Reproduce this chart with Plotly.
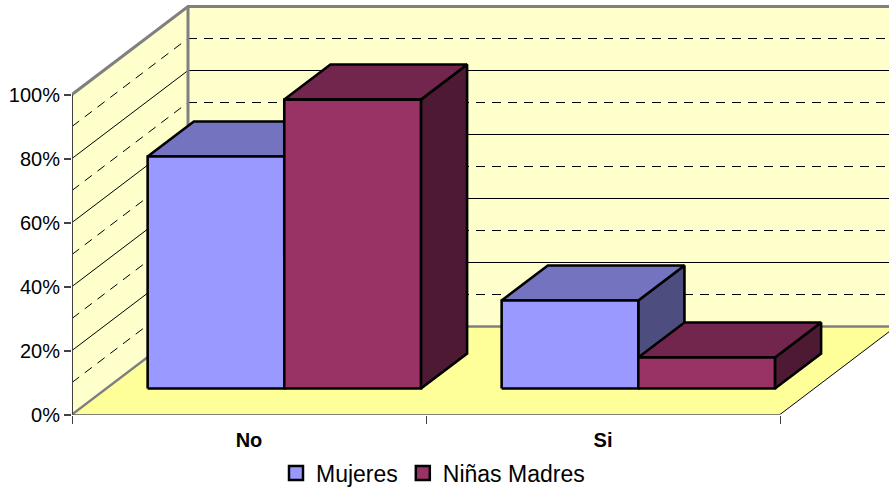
import plotly.graph_objects as go

categories = ["No", "Si"]
series_names = ["Mujeres", "Niñas Madres"]
mujeres = [72.5, 27.5]
ninas_madres = [90.3, 9.7]
y_ticks = [0, 20, 40, 60, 80, 100]
y_tick_labels = ["0%", "20%", "40%", "60%", "80%", "100%"]

W, H = 889, 488
PX_LEFT, PX_BASE = 72, 414.5
PX_PER_CAT, PX_PER_PCT = 354, 3.2
DEPTH_X = 116 / PX_PER_CAT
DEPTH_Y = 88 / PX_PER_PCT
GAP = 0.117
BAR_W = 0.386
D0, D1 = 0.295, 0.693
N = len(categories)
XMAX = (W - PX_LEFT) / PX_PER_CAT
YMAX = PX_BASE / PX_PER_PCT

colors = [
    {"front": "#9999FF", "top": "#7373BF", "side": "#4D4D80"},
    {"front": "#993366", "top": "#73264D", "side": "#4D1933"},
]
WALL, FLOOR, GRAY, AXIS = "#FFFFCC", "#FFFF99", "#808080", "#404040"


def proj(x, v, d=0.0):
    return x + d * DEPTH_X, v + d * DEPTH_Y


fig = go.Figure()


def poly(pts, fill=None, line=None, width=1, dash=None, closed=True):
    xs = [p[0] for p in pts]
    ys = [p[1] for p in pts]
    if closed:
        xs.append(xs[0])
        ys.append(ys[0])
    fig.add_trace(go.Scatter(
        x=xs, y=ys, mode="lines", showlegend=False, hoverinfo="skip",
        cliponaxis=False,
        fill="toself" if fill else None, fillcolor=fill,
        line=dict(color=line if line else "rgba(0,0,0,0)", width=width, dash=dash),
    ))


# walls and floor
poly([proj(0, 0), proj(0, 100), proj(0, 100, 1), proj(0, 0, 1)], fill=WALL)
poly([proj(0, 0, 1), proj(0, 100, 1), proj(N, 100, 1), proj(N, 0, 1)], fill=WALL)
poly([proj(0, 0), proj(N, 0), proj(N, 0, 1), proj(0, 0, 1)], fill=FLOOR)

# gridlines
for v in range(10, 100, 10):
    major = v % 20 == 0
    style = dict(line="#000000", width=1, dash=None if major else "9px,7px", closed=False)
    poly([proj(0, v), proj(0, v, 1)], **style)
    poly([proj(0, v, 1), proj(N, v, 1)], **style)

# wall edges
poly([proj(0, 0), proj(0, 0, 1), proj(N, 0, 1)], line=GRAY, width=2.5, closed=False)
poly([proj(0, 0, 1), proj(0, 100, 1)], line=GRAY, width=3, closed=False)
poly([proj(0, 100), proj(0, 100, 1), proj(N, 100, 1)], line=GRAY, width=3, closed=False)
poly([proj(0, 0), proj(N, 0), proj(N, 0, 1)], line="#000000", width=1, closed=False)
poly([proj(0, 0), proj(0, 100)], line=AXIS, width=2, closed=False)

# bars
for i in range(N):
    for s, vals in enumerate([mujeres, ninas_madres]):
        x0 = i + GAP + s * BAR_W
        x1 = x0 + BAR_W
        v = vals[i]
        c = colors[s]
        kw = dict(line="#000000", width=2.6)
        poly([proj(x1, 0, D0), proj(x1, v, D0), proj(x1, v, D1), proj(x1, 0, D1)], fill=c["side"], **kw)
        poly([proj(x0, v, D0), proj(x1, v, D0), proj(x1, v, D1), proj(x0, v, D1)], fill=c["top"], **kw)
        poly([proj(x0, 0, D0), proj(x1, 0, D0), proj(x1, v, D0), proj(x0, v, D0)], fill=c["front"], **kw)

# legend entries
for s, name in enumerate(series_names):
    fig.add_trace(go.Scatter(
        x=[None], y=[None], mode="markers", name=name,
        marker=dict(symbol="square", size=14, color=colors[s]["front"],
                    line=dict(color="#000000", width=2.5)),
    ))

fig.update_layout(
    width=W, height=H,
    margin=dict(l=0, r=0, t=0, b=0, autoexpand=False),
    paper_bgcolor="#FFFFFF", plot_bgcolor="rgba(0,0,0,0)",
    font=dict(family="Liberation Sans, Arial, sans-serif", color="#000000"),
    showlegend=True,
    legend=dict(orientation="h", x=433 / W, xanchor="center", y=(H - 473) / H, yanchor="middle",
                font=dict(size=23), bgcolor="rgba(0,0,0,0)", itemclick=False, itemdoubleclick=False,
                traceorder="normal"),
    xaxis=dict(
        domain=[PX_LEFT / W, 1], range=[0, XMAX], showgrid=False, zeroline=False, showline=False,
        tickmode="array", tickvals=[i + 0.5 for i in range(N)], ticktext=categories,
        ticks="outside", ticklen=7, tickcolor="rgba(0,0,0,0)",
        tickfont=dict(size=20, family="Liberation Sans, Arial, sans-serif", weight="bold"),
        minor=dict(tickmode="array", tickvals=list(range(N + 1)), ticks="outside", ticklen=8,
                   tickcolor=AXIS, tickwidth=1, showgrid=False),
    ),
    yaxis=dict(
        domain=[(H - PX_BASE) / H, 1], range=[0, YMAX], showgrid=False, zeroline=False, showline=False,
        tickmode="array", tickvals=y_ticks, ticktext=y_tick_labels,
        ticks="outside", ticklen=7, tickcolor=AXIS, tickwidth=1.5,
        tickfont=dict(size=20),
    ),
)

fig.write_html("out.html", config={"displayModeBar": False},
               post_script="document.body.style.margin='0';")
